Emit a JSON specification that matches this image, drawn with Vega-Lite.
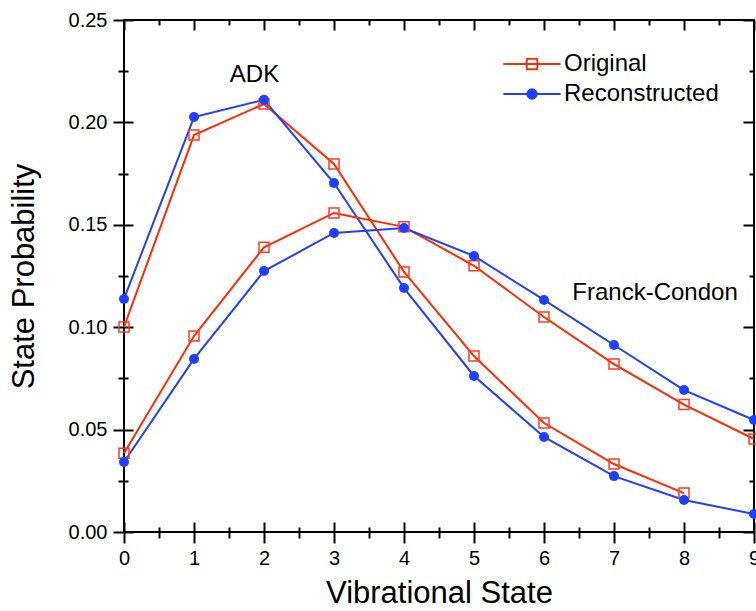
{
  "$schema": "https://vega.github.io/schema/vega-lite/v6.json",
  "width": 630,
  "height": 512,
  "autosize": {"type": "none"},
  "padding": {"left": 124, "top": 20, "right": 2, "bottom": 79},
  "background": "white",
  "config": {
    "view": {"stroke": "black", "strokeWidth": 2},
    "axis": {"grid": false, "domain": false, "tickColor": "black", "tickWidth": 2, "labelColor": "black", "titleColor": "black", "labelFont": "Liberation Sans", "titleFont": "Liberation Sans", "titleFontWeight": "normal", "labelFlush": false, "labelOverlap": false},
    "legend": {"labelFont": "Liberation Sans"}
  },
  "datasets": {
    "curves": [
      {"model": "ADK", "series": "Original", "state": 0, "prob": 0.1001},
      {"model": "ADK", "series": "Original", "state": 1, "prob": 0.1938},
      {"model": "ADK", "series": "Original", "state": 2, "prob": 0.2090},
      {"model": "ADK", "series": "Original", "state": 3, "prob": 0.1797},
      {"model": "ADK", "series": "Original", "state": 4, "prob": 0.1270},
      {"model": "ADK", "series": "Original", "state": 5, "prob": 0.0859},
      {"model": "ADK", "series": "Original", "state": 6, "prob": 0.0532},
      {"model": "ADK", "series": "Original", "state": 7, "prob": 0.0332},
      {"model": "ADK", "series": "Original", "state": 8, "prob": 0.0190},
      {"model": "ADK", "series": "Reconstructed", "state": 0, "prob": 0.1138},
      {"model": "ADK", "series": "Reconstructed", "state": 1, "prob": 0.2026},
      {"model": "ADK", "series": "Reconstructed", "state": 2, "prob": 0.2110},
      {"model": "ADK", "series": "Reconstructed", "state": 3, "prob": 0.1704},
      {"model": "ADK", "series": "Reconstructed", "state": 4, "prob": 0.1191},
      {"model": "ADK", "series": "Reconstructed", "state": 5, "prob": 0.0762},
      {"model": "ADK", "series": "Reconstructed", "state": 6, "prob": 0.0464},
      {"model": "ADK", "series": "Reconstructed", "state": 7, "prob": 0.0273},
      {"model": "ADK", "series": "Reconstructed", "state": 8, "prob": 0.0156},
      {"model": "ADK", "series": "Reconstructed", "state": 9, "prob": 0.0088},
      {"model": "Franck-Condon", "series": "Original", "state": 0, "prob": 0.0385},
      {"model": "Franck-Condon", "series": "Original", "state": 1, "prob": 0.0957},
      {"model": "Franck-Condon", "series": "Original", "state": 2, "prob": 0.1390},
      {"model": "Franck-Condon", "series": "Original", "state": 3, "prob": 0.1558},
      {"model": "Franck-Condon", "series": "Original", "state": 4, "prob": 0.1490},
      {"model": "Franck-Condon", "series": "Original", "state": 5, "prob": 0.1300},
      {"model": "Franck-Condon", "series": "Original", "state": 6, "prob": 0.1050},
      {"model": "Franck-Condon", "series": "Original", "state": 7, "prob": 0.0820},
      {"model": "Franck-Condon", "series": "Original", "state": 8, "prob": 0.0622},
      {"model": "Franck-Condon", "series": "Original", "state": 9, "prob": 0.0454},
      {"model": "Franck-Condon", "series": "Reconstructed", "state": 0, "prob": 0.0342},
      {"model": "Franck-Condon", "series": "Reconstructed", "state": 1, "prob": 0.0845},
      {"model": "Franck-Condon", "series": "Reconstructed", "state": 2, "prob": 0.1274},
      {"model": "Franck-Condon", "series": "Reconstructed", "state": 3, "prob": 0.1460},
      {"model": "Franck-Condon", "series": "Reconstructed", "state": 4, "prob": 0.1484},
      {"model": "Franck-Condon", "series": "Reconstructed", "state": 5, "prob": 0.1348},
      {"model": "Franck-Condon", "series": "Reconstructed", "state": 6, "prob": 0.1133},
      {"model": "Franck-Condon", "series": "Reconstructed", "state": 7, "prob": 0.0913},
      {"model": "Franck-Condon", "series": "Reconstructed", "state": 8, "prob": 0.0693},
      {"model": "Franck-Condon", "series": "Reconstructed", "state": 9, "prob": 0.0547}
    ],
    "notes": [
      {"label": "ADK", "state": 1.864, "prob": 0.2197},
      {"label": "Franck-Condon", "state": 7.586, "prob": 0.1133}
    ]
  },
  "resolve": {"axis": {"x": "independent", "y": "independent"}},
  "layer": [
    {
      "data": {"name": "curves"},
      "mark": {"type": "line", "strokeWidth": 2, "clip": false},
      "encoding": {
        "x": {"field": "state", "type": "quantitative", "scale": {"domain": [0, 9], "nice": false, "zero": false},
          "axis": {"orient": "bottom", "values": [0,1,2,3,4,5,6,7,8,9], "offset": -10, "tickSize": 21, "labelFontSize": 20, "labelPadding": 5, "title": "Vibrational State", "titleFontSize": 31, "titlePadding": 10}},
        "y": {"field": "prob", "type": "quantitative", "scale": {"domain": [0, 0.25], "nice": false, "zero": false},
          "axis": {"orient": "left", "values": [0, 0.05, 0.1, 0.15, 0.2, 0.25], "format": ".2f", "offset": -9, "tickSize": 20, "labelFontSize": 20, "labelPadding": 6, "title": "State Probability", "titleFontSize": 31, "titlePadding": 28}},
        "color": {"field": "series", "type": "nominal",
          "scale": {"domain": ["Original", "Reconstructed"], "range": ["#ff2a00", "#1f3fff"]},
          "legend": {"orient": "none", "legendX": 396, "legendY": 32, "title": null, "padding": 0, "labelFontSize": 24, "labelColor": "black", "labelOffset": 20, "rowPadding": 6, "symbolSize": 121, "symbolStrokeWidth": 1.8,
            "encode": {"symbols": {"update": {
              "shape": {"signal": "datum.value === 'Original' ? 'M-5.2,0H5.2M-0.95,-0.95H0.95V0.95H-0.95Z' : 'M-5.2,0H5.2M-0.86,0A0.86,0.86,0,1,1,0.86,0A0.86,0.86,0,1,1,-0.86,0Z'"},
              "fill": {"signal": "datum.value === 'Original' ? 'transparent' : '#1f3fff'"},
              "fillOpacity": {"value": 1}
            }}}}},
        "detail": {"field": "model"},
        "order": {"field": "state"}
      }
    },
    {
      "data": {"name": "curves"},
      "transform": [{"filter": "datum.series === 'Original'"}],
      "mark": {"type": "point", "shape": "square", "size": 100, "strokeWidth": 1.5, "filled": false, "color": "#ff3a20", "opacity": 1, "clip": false},
      "encoding": {
        "x": {"field": "state", "type": "quantitative", "scale": {"domain": [0, 9], "nice": false, "zero": false},
          "axis": {"orient": "bottom", "values": [0.5,1.5,2.5,3.5,4.5,5.5,6.5,7.5,8.5], "offset": -5, "tickSize": 11, "labels": false, "title": null}},
        "y": {"field": "prob", "type": "quantitative", "scale": {"domain": [0, 0.25], "nice": false, "zero": false},
          "axis": {"orient": "left", "values": [0.025, 0.075, 0.125, 0.175, 0.225], "offset": -4, "tickSize": 10, "labels": false, "title": null}}
      }
    },
    {
      "data": {"name": "curves"},
      "transform": [{"filter": "datum.series === 'Reconstructed'"}],
      "mark": {"type": "point", "shape": "circle", "size": 100, "filled": true, "color": "#1f3fff", "opacity": 1, "clip": false},
      "encoding": {
        "x": {"field": "state", "type": "quantitative", "scale": {"domain": [0, 9], "nice": false, "zero": false},
          "axis": {"orient": "top", "values": [0,1,2,3,4,5,6,7,8,9], "offset": -10, "tickSize": 10, "labels": false, "title": null}},
        "y": {"field": "prob", "type": "quantitative", "scale": {"domain": [0, 0.25], "nice": false, "zero": false},
          "axis": {"orient": "right", "values": [0, 0.05, 0.1, 0.15, 0.2, 0.25], "offset": -11, "tickSize": 11, "labels": false, "title": null}}
      }
    },
    {
      "data": {"name": "notes"},
      "mark": {"type": "text", "font": "Liberation Sans", "fontSize": 24, "align": "center", "baseline": "alphabetic", "color": "black"},
      "encoding": {
        "x": {"field": "state", "type": "quantitative", "scale": {"domain": [0, 9], "nice": false, "zero": false},
          "axis": {"orient": "top", "values": [0.5,1.5,2.5,3.5,4.5,5.5,6.5,7.5,8.5], "offset": -5, "tickSize": 5, "labels": false, "title": null}},
        "y": {"field": "prob", "type": "quantitative", "scale": {"domain": [0, 0.25], "nice": false, "zero": false},
          "axis": {"orient": "right", "values": [0.025, 0.075, 0.125, 0.175, 0.225], "offset": -5, "tickSize": 5, "labels": false, "title": null}},
        "text": {"field": "label"}
      }
    }
  ]
}
